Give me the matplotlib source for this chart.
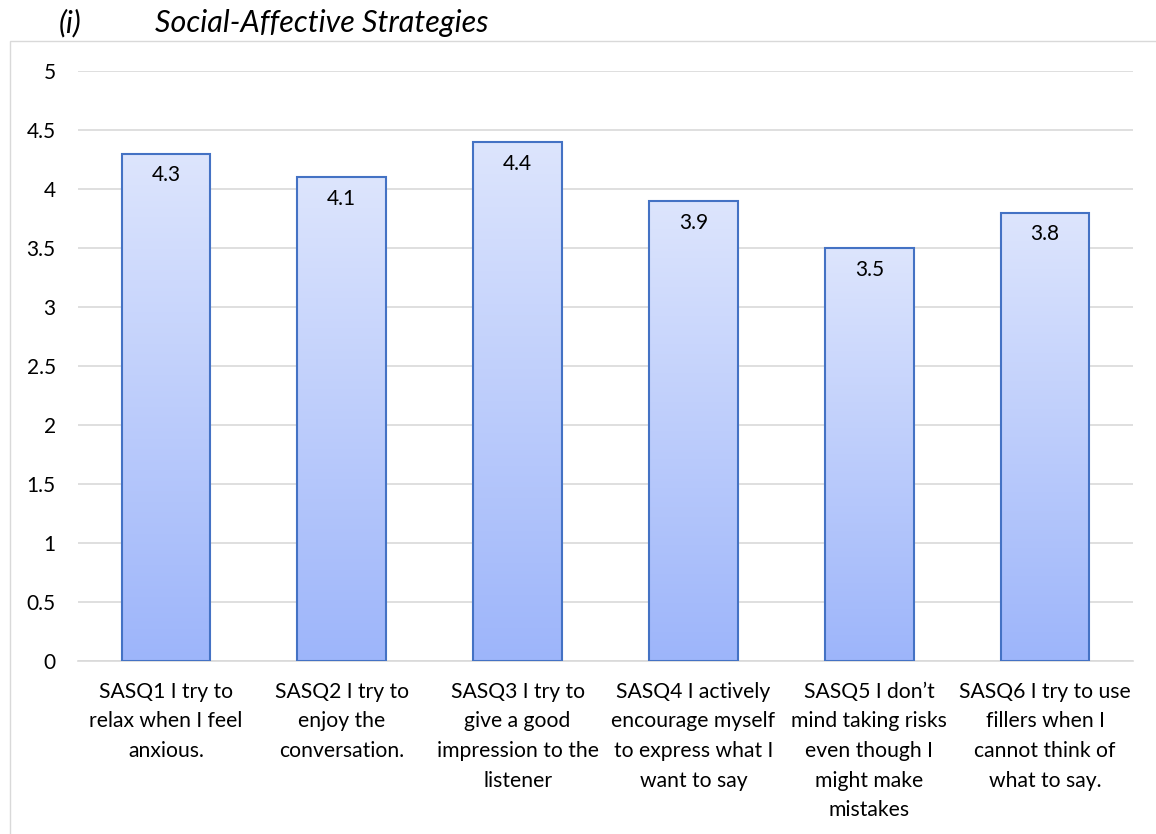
import numpy as np
import matplotlib.pyplot as plt
from matplotlib.colors import LinearSegmentedColormap
from matplotlib.patches import Rectangle

categories = [
    "SASQ1 I try to\nrelax when I feel\nanxious.",
    "SASQ2 I try to\nenjoy the\nconversation.",
    "SASQ3 I try to\ngive a good\nimpression to the\nlistener",
    "SASQ4 I actively\nencourage myself\nto express what I\nwant to say",
    "SASQ5 I don\u2019t\nmind taking risks\neven though I\nmight make\nmistakes",
    "SASQ6 I try to use\nfillers when I\ncannot think of\nwhat to say.",
]
scores = [4.3, 4.1, 4.4, 3.9, 3.5, 3.8]
yticks = [0, 0.5, 1, 1.5, 2, 2.5, 3, 3.5, 4, 4.5, 5]

plt.rcParams['font.family'] = ['Lato', 'DejaVu Sans']

fig = plt.figure(figsize=(11.56, 8.34), dpi=100)
ax = fig.add_axes([78/1156, 1-661/834, (1133-78)/1156, (661-71)/834])

# outer chart frame
fig.patches.append(Rectangle((10/1156, -0.05), 1.2, 1 - 41/834 + 0.05,
                             transform=fig.transFigure, fill=False,
                             edgecolor='#d9d9d9', linewidth=1.0))

x = np.arange(len(scores))
bars = ax.bar(x, scores, width=0.505, facecolor='none', edgecolor='#4472c4',
              linewidth=1.5, zorder=3)

# vertical gradient fill clipped to each bar
cmap = LinearSegmentedColormap.from_list('fade', ['#9db5fa', '#dde5fd'])
grad = np.linspace(0, 1, 256).reshape(-1, 1)
for b in bars:
    x0, w, h = b.get_x(), b.get_width(), b.get_height()
    im = ax.imshow(grad, cmap=cmap, aspect='auto', origin='lower',
                   extent=(x0, x0 + w, 0, h), zorder=2)
    im.set_clip_path(b)
    ax.text(x0 + w/2, h - 0.1, f"{h:.1f}", ha='center', va='top',
            fontsize=15, color='#000000', zorder=4)

ax.set_xlim(-0.5, len(scores) - 0.5)
ax.set_ylim(0, 5)
ax.set_yticks(yticks)
ax.set_yticklabels([f"{t:g}" for t in yticks], fontsize=15)
ax.set_xticks(x)
ax.set_xticklabels(categories, fontsize=15.2, linespacing=1.6)
ax.tick_params(axis='y', length=0, pad=16)
ax.tick_params(axis='x', length=0, pad=15)
ax.grid(axis='y', color='#d9d9d9', linewidth=1.2, zorder=0)
ax.set_axisbelow(True)
for s in ['top', 'right', 'left']:
    ax.spines[s].set_visible(False)
ax.spines['bottom'].set_color('#d9d9d9')
ax.spines['bottom'].set_linewidth(1.2)

fig.text(59/1156, 1 - 23/834, "(i)", fontsize=22, style='italic',
         va='center', ha='left')
fig.text(155/1156, 1 - 23/834, "Social-Affective Strategies", fontsize=22,
         style='italic', va='center', ha='left')

fig.savefig('out.png', dpi=100)
